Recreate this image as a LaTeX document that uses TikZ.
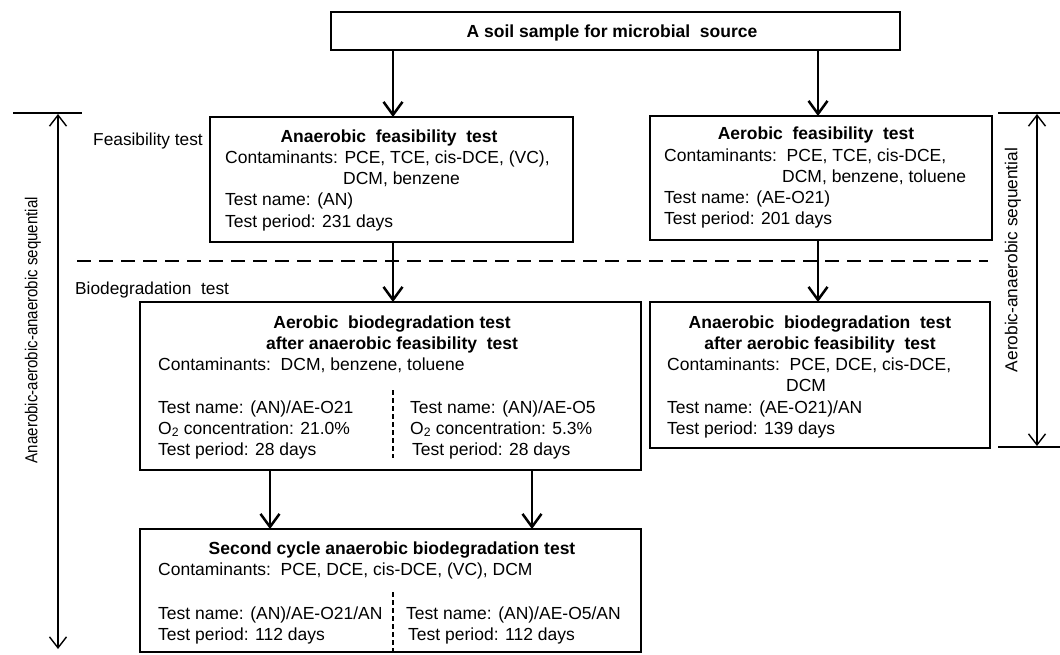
\documentclass[tikz,border=0pt]{standalone}
\usepackage{fontspec}
\usepackage{graphicx}
\setmainfont{Liberation Sans}
\usetikzlibrary{arrows.meta}
\begin{document}
\begin{tikzpicture}[x=1pt,y=-1pt,
  box/.style={draw, line width=2.9pt, inner sep=0, outer sep=0},
  txt/.style={inner sep=0, anchor=base west, font=\fontsize{17.5}{21}\selectfont},
  ttl/.style={inner sep=0, anchor=base, font=\bfseries\fontsize{17.5}{21}\selectfont},
  lbl/.style={inner sep=0, font=\fontsize{17.3}{20}\selectfont},
  arr/.style={line width=2.8pt, -{Straight Barb[length=13pt,width=19pt,line width=2.5pt]}},
  sidearr/.style={line width=1.5pt, {Straight Barb[length=11pt,width=17pt,line width=1.4pt]}-{Straight Barb[length=11pt,width=17pt,line width=1.4pt]}},
  sep/.style={line width=1.5pt, dash pattern=on 5pt off 3pt},
  bigdash/.style={line width=2.8pt, dash pattern=on 14pt off 8pt}]
\useasboundingbox (0,0) rectangle (1060,654);

% boxes
\node[box, minimum width=569pt, minimum height=38pt] (top) at (615.5,31) {};
\node[box, minimum width=363pt, minimum height=125pt] (anf) at (391.5,179.5) {};
\node[box, minimum width=342pt, minimum height=124pt] (aef) at (821,178) {};
\node[box, minimum width=501pt, minimum height=168pt] (aeb) at (390.5,386) {};
\node[box, minimum width=340pt, minimum height=146pt] (anb) at (820,375) {};
\node[box, minimum width=501pt, minimum height=123pt] (sec) at (390.5,590.5) {};

% top text
\node[ttl] (t0) at (612,37) {A soil sample for microbial\ \ source};

% anaerobic feasibility
\node[ttl] (t1a) at (389,142) {Anaerobic\ \ feasibility\ \ test};
\node[txt] (t1b) at (225,163.3) {Contaminants: PCE, TCE, cis-DCE, (VC),};
\node[txt] (t1c) at (343,184.6) {DCM, benzene};
\node[txt] (t1d) at (225,205.9) {Test name: (AN)};
\node[txt] (t1e) at (225,227.2) {Test period: 231 days};

% aerobic feasibility
\node[ttl] (t2a) at (816,139.5) {Aerobic\ \ feasibility\ \ test};
\node[txt] (t2b) at (664,161) {Contaminants:\ \ PCE, TCE, cis-DCE,};
\node[txt] (t2c) at (782,182.3) {DCM, benzene, toluene};
\node[txt] (t2d) at (664,203.6) {Test name: (AE-O21)};
\node[txt] (t2e) at (664,224.9) {Test period: 201 days};

% aerobic biodegradation
\node[ttl] (t3a) at (392,328) {Aerobic\ \ biodegradation test};
\node[ttl] (t3b) at (392,349.3) {after anaerobic feasibility\ \ test};
\node[txt] (t3c) at (158,370.6) {Contaminants:\ \ DCM, benzene, toluene};
\node[txt] (t3d) at (158,413) {Test name: (AN)/AE-O21};
\node[txt] (t3e) at (158,434.3) {O\textsubscript{2} concentration: 21.0\%};
\node[txt] (t3f) at (158,455.6) {Test period: 28 days};
\node[txt] (t3g) at (410,413) {Test name: (AN)/AE-O5};
\node[txt] (t3h) at (410,434.3) {O\textsubscript{2} concentration: 5.3\%};
\node[txt] (t3i) at (412,455.6) {Test period: 28 days};
\coordinate (s1a) at (393,390);
\coordinate (s1b) at (393,458);
\draw[sep] (s1a) -- (s1b);

% anaerobic biodegradation
\node[ttl] (t4a) at (820,328) {Anaerobic\ \ biodegradation\ \ test};
\node[ttl] (t4b) at (820,349.3) {after aerobic feasibility\ \ test};
\node[txt] (t4c) at (667,370.6) {Contaminants:\ \ PCE, DCE, cis-DCE,};
\node[txt] (t4d) at (786,391.9) {DCM};
\node[txt] (t4e) at (667,413.2) {Test name: (AE-O21)/AN};
\node[txt] (t4f) at (667,434.5) {Test period: 139 days};

% second cycle
\node[ttl] (t5a) at (392,554) {Second cycle anaerobic biodegradation test};
\node[txt] (t5b) at (158,575.5) {Contaminants:\ \ PCE, DCE, cis-DCE, (VC), DCM};
\node[txt] (t5c) at (158,619) {Test name: (AN)/AE-O21/AN};
\node[txt] (t5d) at (158,640.5) {Test period: 112 days};
\node[txt] (t5e) at (406,619) {Test name: (AN)/AE-O5/AN};
\node[txt] (t5f) at (408,640.5) {Test period: 112 days};
\coordinate (s2a) at (393,592);
\coordinate (s2b) at (393,652);
\draw[sep] (s2a) -- (s2b);

% arrows
\coordinate (xa) at (393,0);
\coordinate (xb) at (818,0);
\coordinate (xc) at (270,0);
\coordinate (xd) at (532,0);
\draw[arr] (top.south -| xa) -- (anf.north -| xa);
\draw[arr] (top.south -| xb) -- (aef.north -| xb);
\draw[arr] (anf.south -| xa) -- (aeb.north -| xa);
\draw[arr] (aef.south -| xb) -- (anb.north -| xb);
\draw[arr] (aeb.south -| xc) -- (sec.north -| xc);
\draw[arr] (aeb.south -| xd) -- (sec.north -| xd);

% dashed phase separator
\coordinate (d1) at (77,261);
\coordinate (d2) at (988,261);
\draw[bigdash] (d1) -- (d2);

% phase labels
\node[lbl, anchor=base west] (fl) at (93,145) {Feasibility test};
\node[lbl, anchor=base west] (bl) at (75,294) {Biodegradation\ \ test};

% left sequence marker
\coordinate (lt1) at (13,113);
\coordinate (lt2) at (82,113);
\draw[line width=1.5pt] (lt1) -- (lt2);
\coordinate (la1) at (58,114);
\coordinate (la2) at (58,649);
\draw[sidearr] (la1) -- (la2);
\node[lbl, rotate=90] (ll) at (33,330) {\scalebox{0.87}[1]{Anaerobic-aerobic-anaerobic sequential}};

% right sequence marker
\coordinate (rt1) at (998,113);
\coordinate (rt2) at (1060,113);
\coordinate (rb1) at (998,447);
\coordinate (rb2) at (1060,447);
\draw[line width=1.5pt] (rt1) -- (rt2);
\draw[line width=1.5pt] (rb1) -- (rb2);
\coordinate (ra1) at (1037,114);
\coordinate (ra2) at (1037,446);
\draw[sidearr] (ra1) -- (ra2);
\node[lbl, rotate=90] (rl) at (1013,260) {Aerobic-anaerobic sequential};
\end{tikzpicture}
\end{document}
